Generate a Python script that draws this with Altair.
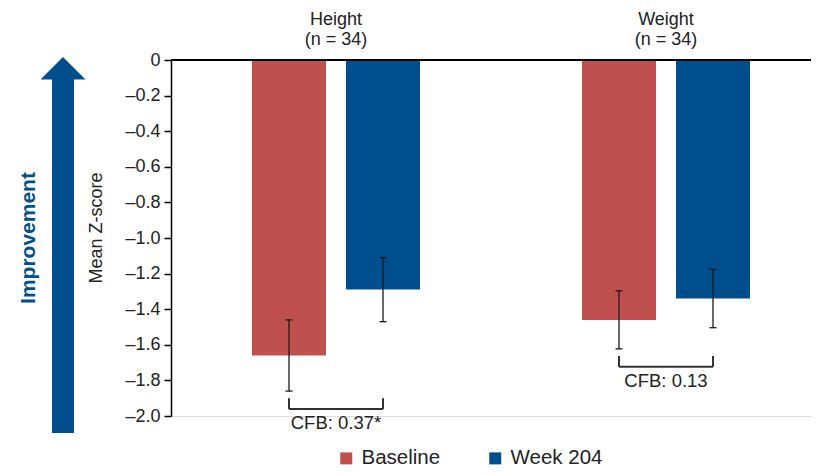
import altair as alt
import pandas as pd

# ---------------- data ----------------
groups = ["Height", "Weight"]
group_n = [34, 34]
series = ["Baseline", "Week 204"]
mean_height = [-1.66, -1.29]
mean_weight = [-1.46, -1.34]
err_height = [0.20, 0.18]
err_weight = [0.163, 0.164]
cfb_labels = ["CFB: 0.37*", "CFB: 0.13"]
y_ticks = [0, -0.2, -0.4, -0.6, -0.8, -1.0, -1.2, -1.4, -1.6, -1.8, -2.0]
colors = ["#C0504D", "#004F8C"]

means = {"Height": mean_height, "Weight": mean_weight}
errs = {"Height": err_height, "Weight": err_weight}

# ---------------- layout ----------------
W, H = 640, 356
STEP_PX = 330
FIRST_PX = 165
OFF_PX = 47
HALF_BAR_PX = 37
CAP_PX = 3.5
px = 1.0 / STEP_PX
x_domain = [-FIRST_PX * px, (W - FIRST_PX) * px]
TXT = "#222222"
FONT = "Liberation Sans"

rows = []
for gi, g in enumerate(groups):
    for si, s in enumerate(series):
        xc = gi + (2 * si - 1) * OFF_PX * px
        m = means[g][si]
        e = errs[g][si]
        rows.append(dict(group=g, series=s, xc=xc,
                         x0=xc - HALF_BAR_PX * px, x1=xc + HALF_BAR_PX * px,
                         cl=xc - CAP_PX * px, cr=xc + CAP_PX * px,
                         mean=m, lo=m - e, hi=m + e))
bars = pd.DataFrame(rows)

brk_rows, end_rows, head_rows = [], [], []
for gi, g in enumerate(groups):
    sub = bars[bars.group == g]
    ytop = sub.lo.min() - 0.04
    ybot = ytop - 0.06
    brk_rows.append(dict(group=g, xl=sub.xc.min(), xr=sub.xc.max(), ybot=ybot,
                         ytext=ybot - 0.08, label=cfb_labels[gi]))
    for xe in (sub.xc.min(), sub.xc.max()):
        end_rows.append(dict(group=g, x=xe, ytop=ytop, ybot=ybot))
    head_rows.append(dict(group=g, xm=gi, nlab=f"(n = {group_n[gi]})"))
brk = pd.DataFrame(brk_rows)
ends = pd.DataFrame(end_rows)
heads = pd.DataFrame(head_rows)
one = pd.DataFrame({"k": [0]})

xscale = alt.Scale(domain=x_domain, nice=False, zero=False)
yscale = alt.Scale(domain=[-2.0, 0.0], nice=False, zero=False)
yaxis = alt.Axis(values=y_ticks, title=None, grid=False, tickSize=7,
                 tickColor="black", tickWidth=1.5, domainColor="black",
                 domainWidth=1.5, labelFontSize=18, labelColor=TXT,
                 labelPadding=4, labelFont=FONT,
                 labelExpr="datum.value == 0 ? '0' : '\u2013' + format(abs(datum.value), '.1f')")

bar_layer = alt.Chart(bars).mark_bar().encode(
    x=alt.X("x0:Q", scale=xscale, axis=None),
    x2="x1:Q",
    y=alt.Y("mean:Q", scale=yscale, axis=yaxis),
    y2=alt.datum(0),
    color=alt.Color("series:N", scale=alt.Scale(domain=series, range=colors),
                    legend=alt.Legend(title=None, orient="none", legendX=165, legendY=388,
                                      direction="horizontal", symbolType="square",
                                      symbolSize=144, symbolStrokeWidth=0,
                                      labelFontSize=20.5, labelColor=TXT, labelFont=FONT,
                                      columnPadding=44, labelOffset=5, labelLimit=300)),
)

zero_line = alt.Chart(one).mark_rule(color="black", strokeWidth=2).encode(
    y=alt.Y("z:Q", scale=yscale, axis=yaxis)
).transform_calculate(z="0")

err_v = alt.Chart(bars).mark_rule(color="#1a1a1a", strokeWidth=1.3).encode(
    x=alt.X("xc:Q", scale=xscale, axis=None),
    y=alt.Y("lo:Q", scale=yscale, axis=yaxis), y2="hi:Q")
cap_lo = alt.Chart(bars).mark_rule(color="#1a1a1a", strokeWidth=1.3).encode(
    x=alt.X("cl:Q", scale=xscale, axis=None), x2="cr:Q",
    y=alt.Y("lo:Q", scale=yscale, axis=yaxis))
cap_hi = alt.Chart(bars).mark_rule(color="#1a1a1a", strokeWidth=1.3).encode(
    x=alt.X("cl:Q", scale=xscale, axis=None), x2="cr:Q",
    y=alt.Y("hi:Q", scale=yscale, axis=yaxis))

brk_h = alt.Chart(brk).mark_rule(color="#333333", strokeWidth=2).encode(
    x=alt.X("xl:Q", scale=xscale, axis=None), x2="xr:Q",
    y=alt.Y("ybot:Q", scale=yscale, axis=yaxis))
brk_v = alt.Chart(ends).mark_rule(color="#333333", strokeWidth=2).encode(
    x=alt.X("x:Q", scale=xscale, axis=None),
    y=alt.Y("ytop:Q", scale=yscale, axis=yaxis), y2="ybot:Q")
brk_t = alt.Chart(brk).mark_text(fontSize=18.5, color=TXT, baseline="middle", font=FONT).encode(
    x=alt.X("xmid:Q", scale=xscale, axis=None),
    y=alt.Y("ytext:Q", scale=yscale, axis=yaxis), text="label:N"
).transform_calculate(xmid="(datum.xl + datum.xr) / 2")

head1 = alt.Chart(heads).mark_text(fontSize=18, color=TXT, baseline="alphabetic", font=FONT).encode(
    x=alt.X("xm:Q", scale=xscale, axis=None), y=alt.value(-35), text="group:N")
head2 = alt.Chart(heads).mark_text(fontSize=18, color=TXT, baseline="alphabetic", font=FONT).encode(
    x=alt.X("xm:Q", scale=xscale, axis=None), y=alt.value(-15), text="nlab:N")

BLUE = colors[1]
shaft = alt.Chart(one).mark_rule(color=BLUE, strokeWidth=22, strokeCap="butt").encode(
    x=alt.value(-108), y=alt.value(19), y2=alt.value(373))
head = alt.Chart(one).mark_point(shape="M0,-1L1,0L-1,0Z", size=2025, filled=True,
                                 color=BLUE, opacity=1, strokeWidth=0).encode(
    x=alt.value(-108), y=alt.value(19.5))
improve = alt.Chart(one).mark_text(angle=270, fontSize=21, fontWeight="bold", color=BLUE,
                                   align="center", baseline="middle", font=FONT).encode(
    x=alt.value(-142), y=alt.value(178), text=alt.value("Improvement"))
ytitle = alt.Chart(one).mark_text(angle=270, fontSize=18, color=TXT,
                                  align="center", baseline="middle", font=FONT).encode(
    x=alt.value(-74), y=alt.value(168), text=alt.value("Mean Z-score"))

chart = alt.layer(
    bar_layer, zero_line, err_v, cap_lo, cap_hi, brk_h, brk_v, brk_t,
    head1, head2, shaft, head, improve, ytitle
).properties(
    width=W, height=H,
    autosize=alt.AutoSizeParams(type="none"),
    padding={"left": 163, "top": 52, "right": 0, "bottom": 52},
).configure_view(stroke=None).configure(font=FONT)

chart.save("out.html", embed_options={"renderer": "svg", "actions": False})
